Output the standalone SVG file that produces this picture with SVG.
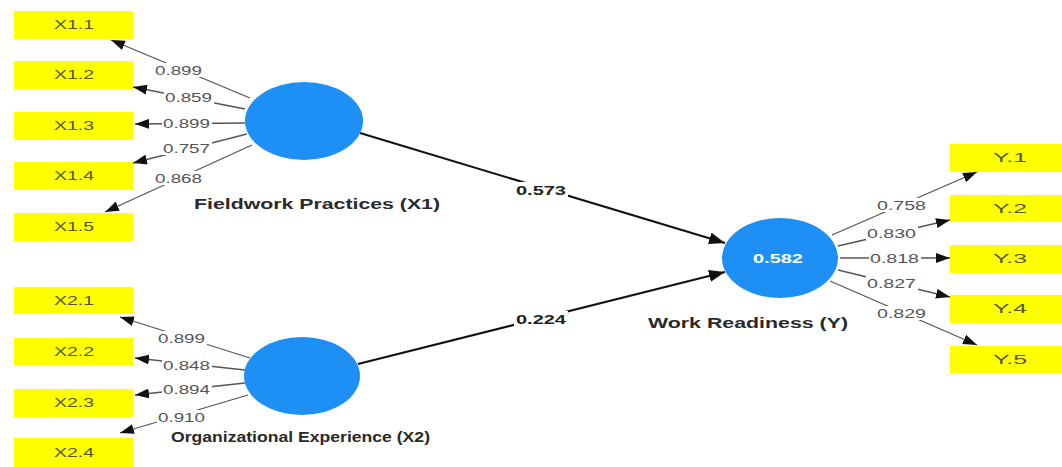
<svg xmlns="http://www.w3.org/2000/svg" width="1062" height="467" viewBox="0 0 1062 467">
<defs>
<marker id="ah" markerUnits="userSpaceOnUse" markerWidth="14" markerHeight="10" refX="14" refY="5" orient="auto"><path d="M0,0 L14,5 L0,10 z" fill="#111"/></marker>
<marker id="ahb" markerUnits="userSpaceOnUse" markerWidth="16" markerHeight="12" refX="16" refY="6" orient="auto"><path d="M0,0 L16,6 L0,12 z" fill="#111"/></marker>
<style>
.ind{fill:#ffff00}
.it{font-family:"Liberation Sans",Arial,sans-serif;font-size:12.5px;fill:#55552a;text-anchor:middle}
.lv{fill:#1e90f5}
.name{font-family:"Liberation Sans",Arial,sans-serif;font-size:14.5px;font-weight:bold;fill:#2a2a2a}
.ld{stroke:#555;stroke-width:1.3;fill:none;marker-end:url(#ah)}
.pth{stroke:#111;stroke-width:2;fill:none;marker-end:url(#ahb)}
.lab{font-family:"Liberation Sans",Arial,sans-serif;font-size:13px;fill:#555}
.labb{font-family:"Liberation Sans",Arial,sans-serif;font-size:13.5px;font-weight:bold;fill:#222}
.bg{fill:#fff}
</style>
</defs>
<rect width="1062" height="467" fill="#fff"/>
<g id="connectors">
<line class="ld" x1="250" y1="98" x2="111" y2="40"/>
<line class="ld" x1="245" y1="109" x2="133" y2="87"/>
<line class="ld" x1="245" y1="123" x2="135" y2="124"/>
<line class="ld" x1="247" y1="134" x2="133" y2="163"/>
<line class="ld" x1="252" y1="145" x2="105" y2="212"/>
<line class="ld" x1="250" y1="358" x2="120" y2="317"/>
<line class="ld" x1="245" y1="370" x2="135" y2="358"/>
<line class="ld" x1="245" y1="383" x2="135" y2="395"/>
<line class="ld" x1="248" y1="395" x2="120" y2="433"/>
<line class="ld" x1="832" y1="235" x2="977" y2="172"/>
<line class="ld" x1="838" y1="246" x2="950" y2="220"/>
<line class="ld" x1="840" y1="258" x2="950" y2="258"/>
<line class="ld" x1="838" y1="270" x2="950" y2="297"/>
<line class="ld" x1="830" y1="281" x2="977" y2="345"/>
<line class="pth" x1="360" y1="133" x2="725" y2="243"/>
<line class="pth" x1="358" y1="364" x2="725" y2="272"/>
<g id="labels">
<rect class="bg" x="154" y="63" width="50" height="14"/><text class="lab" x="155" y="75" textLength="47" lengthAdjust="spacingAndGlyphs">0.899</text>
<rect class="bg" x="164" y="90" width="50" height="14"/><text class="lab" x="165" y="102" textLength="47" lengthAdjust="spacingAndGlyphs">0.859</text>
<rect class="bg" x="162" y="116" width="50" height="14"/><text class="lab" x="163" y="128" textLength="47" lengthAdjust="spacingAndGlyphs">0.899</text>
<rect class="bg" x="162" y="141" width="50" height="14"/><text class="lab" x="163" y="153" textLength="47" lengthAdjust="spacingAndGlyphs">0.757</text>
<rect class="bg" x="154" y="171" width="50" height="14"/><text class="lab" x="155" y="183" textLength="47" lengthAdjust="spacingAndGlyphs">0.868</text>
<rect class="bg" x="157" y="331" width="50" height="14"/><text class="lab" x="158" y="343" textLength="47" lengthAdjust="spacingAndGlyphs">0.899</text>
<rect class="bg" x="162" y="358" width="50" height="14"/><text class="lab" x="163" y="370" textLength="47" lengthAdjust="spacingAndGlyphs">0.848</text>
<rect class="bg" x="162" y="382" width="50" height="14"/><text class="lab" x="163" y="394" textLength="47" lengthAdjust="spacingAndGlyphs">0.894</text>
<rect class="bg" x="157" y="410" width="50" height="14"/><text class="lab" x="158" y="422" textLength="47" lengthAdjust="spacingAndGlyphs">0.910</text>
<rect class="bg" x="876" y="198" width="52" height="14"/><text class="lab" x="877" y="210" textLength="49" lengthAdjust="spacingAndGlyphs">0.758</text>
<rect class="bg" x="866" y="226" width="52" height="14"/><text class="lab" x="867" y="238" textLength="49" lengthAdjust="spacingAndGlyphs">0.830</text>
<rect class="bg" x="869" y="251" width="52" height="14"/><text class="lab" x="870" y="263" textLength="49" lengthAdjust="spacingAndGlyphs">0.818</text>
<rect class="bg" x="866" y="276" width="52" height="14"/><text class="lab" x="867" y="288" textLength="49" lengthAdjust="spacingAndGlyphs">0.827</text>
<rect class="bg" x="876" y="306" width="52" height="14"/><text class="lab" x="877" y="318" textLength="49" lengthAdjust="spacingAndGlyphs">0.829</text>
<rect class="bg" x="514" y="182" width="54" height="15"/><text class="labb" x="516" y="195" textLength="50" lengthAdjust="spacingAndGlyphs">0.573</text>
<rect class="bg" x="514" y="311" width="54" height="15"/><text class="labb" x="516" y="324" textLength="50" lengthAdjust="spacingAndGlyphs">0.224</text>
</g>
</g>
<g id="X1.1"><rect class="ind" x="14" y="11" width="119" height="28"/><text class="it" x="74" y="29" textLength="40" lengthAdjust="spacingAndGlyphs">X1.1</text></g>
<g id="X1.2"><rect class="ind" x="14" y="61" width="119" height="28"/><text class="it" x="74" y="79" textLength="40" lengthAdjust="spacingAndGlyphs">X1.2</text></g>
<g id="X1.3"><rect class="ind" x="14" y="112" width="119" height="28"/><text class="it" x="74" y="130" textLength="40" lengthAdjust="spacingAndGlyphs">X1.3</text></g>
<g id="X1.4"><rect class="ind" x="14" y="162" width="119" height="28"/><text class="it" x="74" y="180" textLength="40" lengthAdjust="spacingAndGlyphs">X1.4</text></g>
<g id="X1.5"><rect class="ind" x="14" y="213" width="119" height="28"/><text class="it" x="74" y="231" textLength="40" lengthAdjust="spacingAndGlyphs">X1.5</text></g>
<g id="X2.1"><rect class="ind" x="14" y="287" width="119" height="27"/><text class="it" x="74" y="305" textLength="40" lengthAdjust="spacingAndGlyphs">X2.1</text></g>
<g id="X2.2"><rect class="ind" x="14" y="338" width="119" height="27"/><text class="it" x="74" y="356" textLength="40" lengthAdjust="spacingAndGlyphs">X2.2</text></g>
<g id="X2.3"><rect class="ind" x="14" y="389" width="119" height="28"/><text class="it" x="74" y="407" textLength="40" lengthAdjust="spacingAndGlyphs">X2.3</text></g>
<g id="X2.4"><rect class="ind" x="14" y="438" width="119" height="29"/><text class="it" x="74" y="457" textLength="40" lengthAdjust="spacingAndGlyphs">X2.4</text></g>
<g id="Y.1"><rect class="ind" x="950" y="144" width="120" height="28"/><text class="it" x="1010" y="162" textLength="34" lengthAdjust="spacingAndGlyphs">Y.1</text></g>
<g id="Y.2"><rect class="ind" x="950" y="195" width="120" height="27"/><text class="it" x="1010" y="213" textLength="34" lengthAdjust="spacingAndGlyphs">Y.2</text></g>
<g id="Y.3"><rect class="ind" x="950" y="245" width="120" height="28"/><text class="it" x="1010" y="263" textLength="34" lengthAdjust="spacingAndGlyphs">Y.3</text></g>
<g id="Y.4"><rect class="ind" x="950" y="295" width="120" height="28"/><text class="it" x="1010" y="313" textLength="34" lengthAdjust="spacingAndGlyphs">Y.4</text></g>
<g id="Y.5"><rect class="ind" x="950" y="346" width="120" height="27"/><text class="it" x="1010" y="364" textLength="34" lengthAdjust="spacingAndGlyphs">Y.5</text></g>
<g id="X1"><ellipse class="lv" cx="304" cy="121" rx="59" ry="39"/><text class="name" x="194" y="209" textLength="246" lengthAdjust="spacingAndGlyphs">Fieldwork Practices (X1)</text></g>
<g id="X2"><ellipse class="lv" cx="302" cy="376" rx="58" ry="39"/><text class="name" x="171" y="442" textLength="259" lengthAdjust="spacingAndGlyphs">Organizational Experience (X2)</text></g>
<g id="Y"><ellipse class="lv" cx="780" cy="258" rx="58" ry="40"/><text x="778" y="263" text-anchor="middle" font-family="'Liberation Sans',Arial,sans-serif" font-size="13.5" font-weight="bold" fill="#fff" textLength="50" lengthAdjust="spacingAndGlyphs">0.582</text><text class="name" x="648" y="328" textLength="200" lengthAdjust="spacingAndGlyphs">Work Readiness (Y)</text></g>
</svg>
